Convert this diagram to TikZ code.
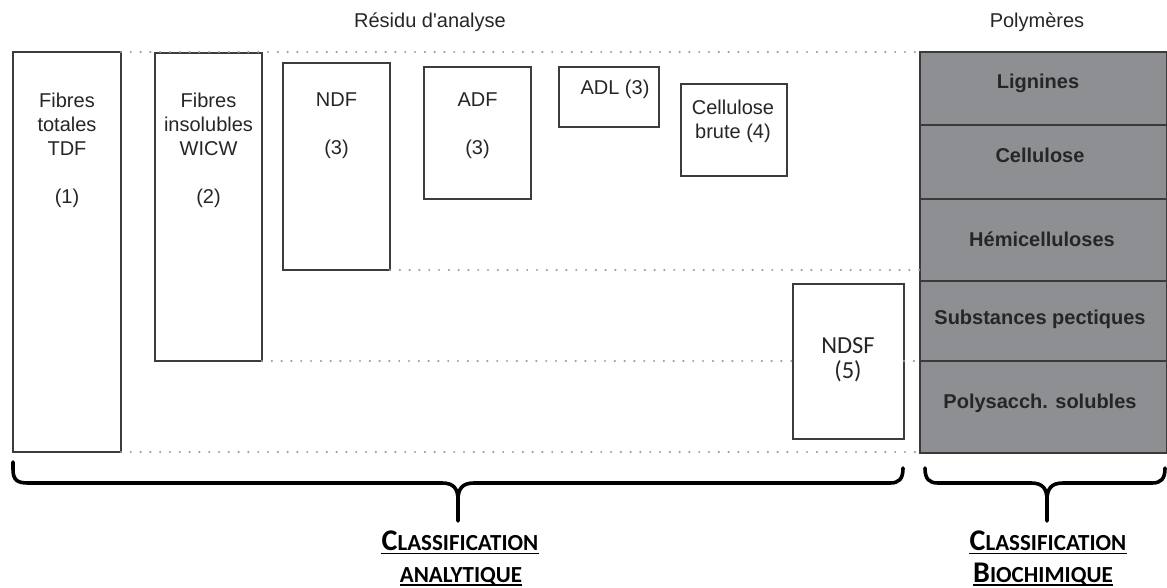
\documentclass[tikz,border=0pt]{standalone}
\usepackage{fontspec}
\setmainfont{Liberation Sans}
\newfontfamily\calfont{Carlito}
\definecolor{boxc}{HTML}{3C3C3C}
\definecolor{txtc}{HTML}{262626}
\definecolor{cellc}{HTML}{8E8F93}
\definecolor{cellline}{HTML}{3A3A3A}
\definecolor{dotc}{HTML}{A0A0A0}
\newcommand{\smallcp}[1]{{\fontsize{23}{23}\selectfont #1}}
\begin{document}
\begin{tikzpicture}[x=1pt,y=-1pt,
  box/.style={draw=boxc, line width=1.5pt, anchor=north west, inner sep=0pt, outer sep=0pt, fill=white},
  txt/.style={font=\fontsize{20}{24}\selectfont, text=txtc, align=center, inner sep=0pt},
  ndtxt/.style={font=\calfont\fontsize{24.5}{25}\selectfont, text=txtc, align=center, inner sep=0pt},
  cell/.style={draw=cellline, line width=1.2pt, fill=cellc, anchor=north west, minimum width=247pt, inner sep=0pt, outer sep=0pt},
  ctxt/.style={font=\fontsize{20}{24}\selectfont\bfseries, text=txtc, inner sep=0pt},
  dots/.style={draw=dotc, line width=2.4pt, line cap=round, dash pattern=on 0pt off 9.8pt},
  brace/.style={draw=black, line width=3.6pt, line cap=round, line join=round},
  cls/.style={font=\calfont\bfseries\fontsize{30}{30}\selectfont, inner sep=0pt, text=black, anchor=base},
  uline/.style={draw=black, line width=1.8pt}
]
\useasboundingbox (0,0) rectangle (1167,588);

% titles
\node[txt, text=txtc] (residu) at (430,22) {Résidu d\textquotesingle analyse};
\node[txt, text=txtc] (polym) at (1037,22) {Polymères};

% grey column
\node[cell, minimum height=73pt] (lig) at (920,52) {};
\node[cell, minimum height=74pt] (cel) at (920,125) {};
\node[cell, minimum height=82pt] (hemi) at (920,199) {};
\node[cell, minimum height=80pt] (pec) at (920,281) {};
\node[cell, minimum height=92pt] (poly) at (920,361) {};
\node[ctxt] (tlig) at (1038,83) {Lignines};
\node[ctxt] (tcel) at (1040,155) {Cellulose};
\node[ctxt] (themi) at (1042,239) {Hémicelluloses};
\node[ctxt] (tpec) at (1040,319) {Substances pectiques};
\node[ctxt] (tpoly) at (1040,403) {Polysacch. solubles};

% analytic boxes
\node[box, minimum width=108pt, minimum height=400pt] (tdf) at (13,52) {};
\node[box, minimum width=107pt, minimum height=308pt] (wicw) at (155,53) {};
\node[box, minimum width=107pt, minimum height=207pt] (ndf) at (283,63) {};
\node[box, minimum width=107pt, minimum height=132pt] (adf) at (424,67) {};
\node[box, minimum width=100pt, minimum height=60pt] (adl) at (559,67) {};
\node[box, minimum width=106pt, minimum height=92pt] (cb) at (681,84) {};
\node[box, minimum width=111pt, minimum height=155pt] (ndsf) at (793,284) {};

\node[txt] (ttdf) at (67,150) {Fibres\\totales\\TDF\\[24pt](1)};
\node[txt] (twicw) at (208.5,150) {Fibres\\insolubles\\WICW\\[24pt](2)};
\node[txt] (tndf) at (336.5,126) {NDF\\[24pt](3)};
\node[txt] (tadf) at (477.5,126) {ADF\\[24pt](3)};
\node[txt] (tadl) at (615,89) {ADL (3)};
\node[txt] (tcb) at (733,121) {Cellulose\\brute (4)};
\node[ndtxt] (tndsf) at (848,360) {NDSF\\(5)};

% dotted level lines
\draw[dots] (tdf.north east) -- (lig.north west);
\draw[dots] (ndf.south east) -- (ndf.south east -| hemi.west);
\draw[dots] (wicw.south east) -- (wicw.south east -| ndsf.west);
\draw[dots] (wicw.south east -| ndsf.east) -- (wicw.south east -| pec.west);
\draw[dots] (tdf.south east) -- (tdf.south east -| poly.west);

% braces
\draw[brace] (13,462) -- (13,469) .. controls (13,480) and (17,483) .. (28,483)
  -- (442,483) .. controls (454,483) and (458,489) .. (458,500) -- (458,521);
\draw[brace] (458,500) .. controls (458,489) and (462,483) .. (474,483)
  -- (890,483) .. controls (899,483) and (903,479) .. (903,468);
\draw[brace] (925,468) .. controls (925,479) and (929,483) .. (938,483)
  -- (1031,483) .. controls (1043,483) and (1047,489) .. (1047,500) -- (1047,521);
\draw[brace] (1047,500) .. controls (1047,489) and (1051,483) .. (1063,483)
  -- (1152,483) .. controls (1161,483) and (1165,479) .. (1165,468);

% classification labels
\node[cls] (c1) at (460,550) {C\smallcp{LASSIFICATION}};
\node[cls] (a1) at (461,582) {\smallcp{ANALYTIQUE}};
\node[cls] (c2) at (1048,550) {C\smallcp{LASSIFICATION}};
\node[cls] (b2) at (1043,582) {B\smallcp{IOCHIMIQUE}};
\draw[uline] ([yshift=-3.5pt]c1.base west) -- ([yshift=-3.5pt]c1.base east);
\draw[uline] ([yshift=-3pt]a1.base west) -- ([yshift=-3pt]a1.base east);
\draw[uline] ([yshift=-3.5pt]c2.base west) -- ([yshift=-3.5pt]c2.base east);
\draw[uline] ([yshift=-3pt]b2.base west) -- ([yshift=-3pt]b2.base east);
\end{tikzpicture}
\end{document}
